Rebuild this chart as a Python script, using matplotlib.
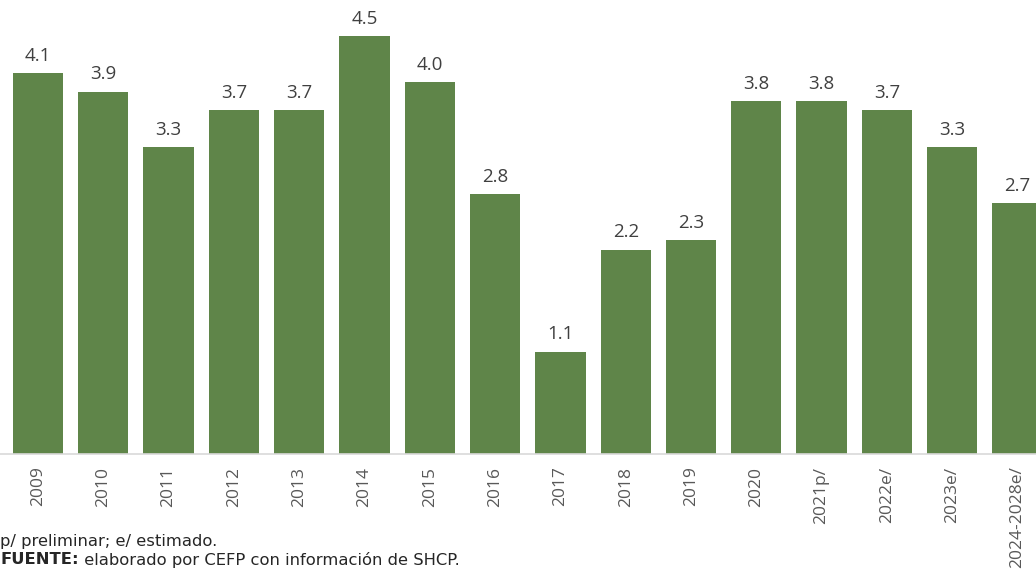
import numpy as np
import matplotlib.pyplot as plt

years = ['2009', '2010', '2011', '2012', '2013', '2014', '2015', '2016',
         '2017', '2018', '2019', '2020', '2021p/', '2022e/', '2023e/', '2024-2028e/']
values = [4.1, 3.9, 3.3, 3.7, 3.7, 4.5, 4.0, 2.8, 1.1, 2.2, 2.3, 3.8, 3.8, 3.7, 3.3, 2.7]

fig = plt.figure(figsize=(10.36, 5.69), dpi=100)
ax = fig.add_axes([0, 0.2021, 1, 0.7979])

x = np.arange(len(years))
bars = ax.bar(x, values, width=0.77, color='#5f8549')

for xi, v in zip(x, values):
    ax.annotate('%.1f' % v, (xi, v), xytext=(0, 6), textcoords='offset points',
                ha='center', va='bottom', fontsize=13.5, color='#404040', family='Open Sans')

ax.set_xlim(-0.582, 15.283)
ax.set_ylim(0, 4.887)
ax.set_xticks(x)
ax.set_xticklabels(years, rotation=90, fontsize=12.5, color='#595959', family='Open Sans')
ax.tick_params(axis='x', length=0, pad=9)
ax.set_yticks([])
for s in ['top', 'right', 'left']:
    ax.spines[s].set_visible(False)
ax.spines['bottom'].set_color('#d9d9d9')
ax.spines['bottom'].set_linewidth(1.2)

fig.text(0.0, 0.048, 'p/ preliminar; e/ estimado.', fontsize=11.8, color='#262626',
         ha='left', va='center')
t1 = fig.text(0.0, 0.016, 'FUENTE:', fontsize=11.8, color='#262626', fontweight='bold',
              ha='left', va='center')
ax.annotate(' elaborado por CEFP con información de SHCP.', xy=(1, 0.5), xycoords=t1,
            fontsize=11.8, color='#262626', ha='left', va='center', annotation_clip=False)

fig.savefig('out.png', dpi=100)
